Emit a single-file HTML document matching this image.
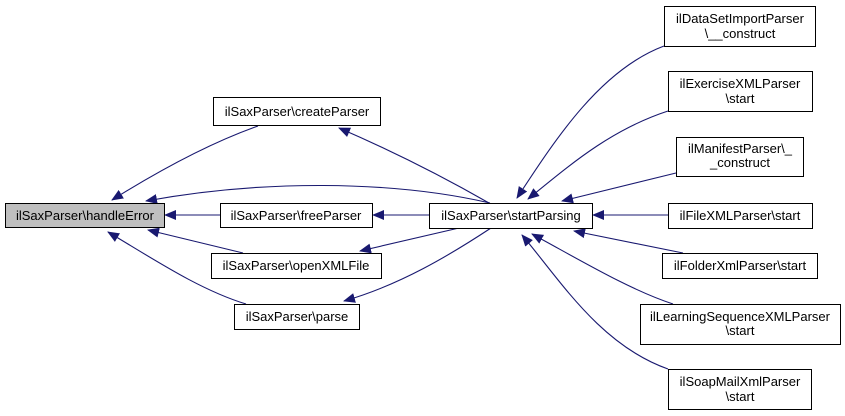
<!DOCTYPE html>
<html><head><meta charset="utf-8"><style>
html,body{margin:0;padding:0;background:#fff;}
svg{display:block;}
text{font-family:"Liberation Sans",Arial,sans-serif;font-size:13px;fill:#000;}
</style></head><body>
<svg width="845" height="416" viewBox="0 0 845 416" xmlns="http://www.w3.org/2000/svg">
<defs>
<marker id="a" markerWidth="12" markerHeight="10" refX="11" refY="5" orient="auto" markerUnits="userSpaceOnUse">
<path d="M0,0 L12,5 L0,10 Z" fill="#191970"/>
</marker>
</defs>
<g fill="none" stroke="#191970" stroke-width="1.1" marker-end="url(#a)">
<path d="M258,126 C210,143 160,170 112,200"/>
<path d="M490,203 C390,180 260,180 146,201"/>
<path d="M220,215 L165,215"/>
<path d="M243,253 L148,230"/>
<path d="M246,304 C200,290 155,260 108,232"/>
<path d="M489,203 C440,175 390,150 339,128"/>
<path d="M429,215 L373,215"/>
<path d="M459,228 L360,251"/>
<path d="M491,228 C450,255 400,285 344,301"/>
<path d="M664,46 C600,70 555,140 517,198"/>
<path d="M668,111 C610,130 570,165 528,199"/>
<path d="M676,173 L562,201"/>
<path d="M668,215 L593,215"/>
<path d="M683,253 L574,231"/>
<path d="M673,304 C630,290 580,260 532,234"/>
<path d="M668,369 C600,345 560,280 522,235"/>
</g>
<g stroke="#000" stroke-width="1">
<rect x="5.5" y="203.5" width="159" height="24" fill="#bfbfbf"/>
<rect x="213.5" y="97.5" width="167" height="28" fill="#fff"/>
<rect x="220.5" y="203.5" width="152" height="24" fill="#fff"/>
<rect x="211.5" y="253.5" width="170" height="25" fill="#fff"/>
<rect x="234.5" y="304.5" width="125" height="25" fill="#fff"/>
<rect x="429.5" y="203.5" width="163" height="25" fill="#fff"/>
<rect x="664.5" y="6.5" width="151" height="40" fill="#fff"/>
<rect x="668.5" y="71.5" width="144" height="40" fill="#fff"/>
<rect x="676.5" y="137.5" width="127" height="39" fill="#fff"/>
<rect x="668.5" y="203.5" width="144" height="25" fill="#fff"/>
<rect x="662.5" y="253.5" width="155" height="25" fill="#fff"/>
<rect x="640.5" y="304.5" width="200" height="40" fill="#fff"/>
<rect x="668.5" y="369.5" width="143" height="40" fill="#fff"/>
</g>
<g text-anchor="middle">
<text x="85" y="220">ilSaxParser\handleError</text>
<text x="297" y="116">ilSaxParser\createParser</text>
<text x="296" y="220">ilSaxParser\freeParser</text>
<text x="296" y="270">ilSaxParser\openXMLFile</text>
<text x="297" y="321">ilSaxParser\parse</text>
<text x="511" y="220">ilSaxParser\startParsing</text>
<text x="740" y="23">ilDataSetImportParser</text>
<text x="740" y="38">\__construct</text>
<text x="740" y="88">ilExerciseXMLParser</text>
<text x="740" y="103">\start</text>
<text x="740" y="153">ilManifestParser\_</text>
<text x="740" y="167">_construct</text>
<text x="740" y="220">ilFileXMLParser\start</text>
<text x="740" y="270">ilFolderXmlParser\start</text>
<text x="740" y="321">ilLearningSequenceXMLParser</text>
<text x="740" y="335">\start</text>
<text x="740" y="386">ilSoapMailXmlParser</text>
<text x="740" y="401">\start</text>
</g>
</svg>
</body></html>
